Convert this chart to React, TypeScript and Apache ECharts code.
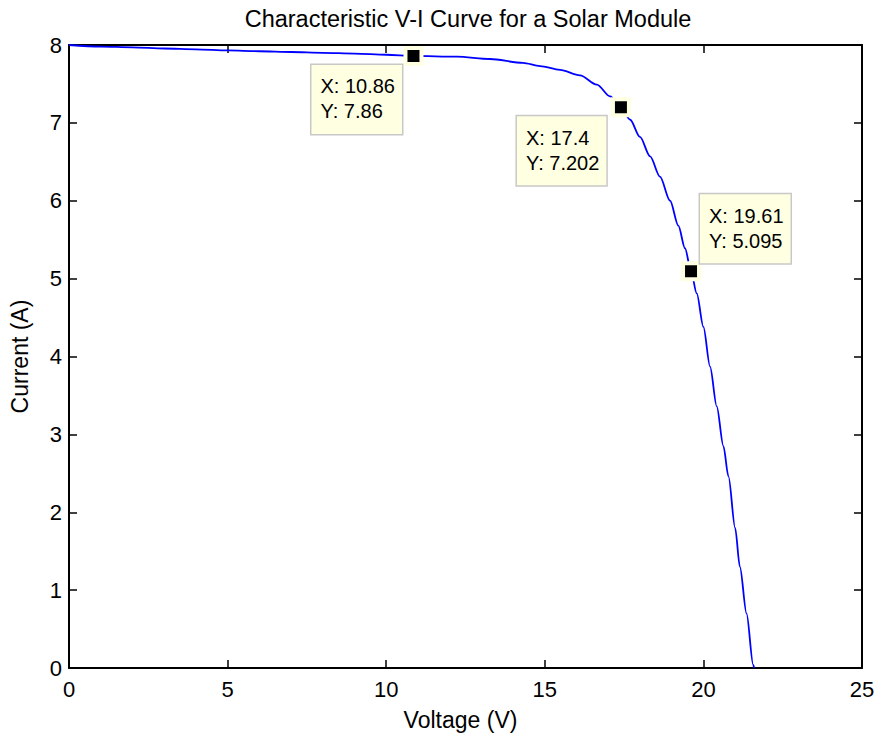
import React, { useEffect, useRef } from "react";
import * as echarts from "echarts";

const voltage = [0, 1, 2, 3, 4, 5, 6, 7, 8, 9, 10, 10.86, 12.23, 13.27, 14.31, 14.85, 15.48, 16.11, 16.64, 17.06, 17.4, 17.69, 18.0, 18.32, 18.63, 18.95, 19.21, 19.42, 19.61, 19.79, 20.0, 20.21, 20.42, 20.63, 20.79, 21.0, 21.15, 21.36, 21.57, 21.6];
const current = [8.0, 7.98, 7.97, 7.955, 7.945, 7.93, 7.92, 7.91, 7.9, 7.89, 7.875, 7.86, 7.85, 7.82, 7.77, 7.73, 7.68, 7.61, 7.49, 7.34, 7.202, 7.04, 6.82, 6.57, 6.31, 6.0, 5.68, 5.39, 5.095, 4.81, 4.38, 3.87, 3.36, 2.85, 2.46, 1.8, 1.3, 0.7, 0.04, 0];

const tipX = [10.86, 17.4, 19.61];
const tipY = [7.86, 7.202, 5.095];

const xTicks = { min: 0, max: 25, interval: 5 };
const yTicks = { min: 0, max: 8, interval: 1 };

const FONT = "'Liberation Sans', Arial, Helvetica, sans-serif";

export default function App() {
  const ref = useRef<HTMLDivElement>(null);
  useEffect(() => {
    if (!ref.current) return;
    const chart = echarts.init(ref.current, null, { renderer: "svg" });
    const tipOffsets: [number, number][] = [[-102, 9], [-104, 9], [9, -77]];
    const axisLine = { show: true, onZero: false, lineStyle: { color: "#000", width: 2 } };
    const tick = { show: true, inside: true, length: 8, lineStyle: { color: "#000", width: 1.5 } };
    const label = { color: "#000", fontSize: 22, fontFamily: FONT };
    chart.setOption({
      animation: false,
      backgroundColor: "#fff",
      title: {
        text: "Characteristic V-I Curve for a Solar Module",
        left: 463,
        textAlign: "center",
        top: 2,
        textStyle: { color: "#000", fontSize: 23.5, fontWeight: "normal", fontFamily: FONT },
      },
      grid: { left: 69, right: 16, top: 45, bottom: 68, containLabel: false },
      xAxis: [
        {
          type: "value",
          ...xTicks,
          position: "bottom",
          name: "Voltage (V)",
          nameLocation: "middle",
          nameGap: 40,
          nameTextStyle: { color: "#000", fontSize: 23, fontFamily: FONT, padding: [0, 10, 0, 0] },
          axisLine,
          axisTick: tick,
          axisLabel: { ...label, margin: 10 },
          splitLine: { show: false },
        },
        {
          type: "value",
          ...xTicks,
          position: "top",
          axisLine,
          axisTick: tick,
          axisLabel: { show: false },
          splitLine: { show: false },
        },
      ],
      yAxis: [
        {
          type: "value",
          ...yTicks,
          position: "left",
          name: "Current (A)",
          nameLocation: "middle",
          nameGap: 38,
          nameTextStyle: { color: "#000", fontSize: 23, fontFamily: FONT },
          axisLine,
          axisTick: tick,
          axisLabel: { ...label, margin: 7 },
          splitLine: { show: false },
        },
        {
          type: "value",
          ...yTicks,
          position: "right",
          axisLine,
          axisTick: tick,
          axisLabel: { show: false },
          splitLine: { show: false },
        },
      ],
      series: [
        {
          type: "line",
          data: voltage.map((v, i) => [v, current[i]]),
          showSymbol: false,
          symbol: "none",
          smooth: 0.3,
          smoothMonotone: "x",
          lineStyle: { color: "#0000FF", width: 1.8 },
          markPoint: {
            symbol: "rect",
            symbolSize: 16,
            itemStyle: { color: "#000", borderColor: "#FFFFE1", borderWidth: 4 },
            data: tipX.map((x, i) => ({
              coord: [x, tipY[i]],
              label: {
                show: true,
                position: "inside",
                align: "left",
                verticalAlign: "top",
                offset: tipOffsets[i],
                formatter: `X: ${x}\nY: ${tipY[i]}`,
                color: "#000",
                fontSize: 20,
                fontFamily: FONT,
                lineHeight: 25,
                backgroundColor: "#FFFFE1",
                borderColor: "#C8C8C8",
                borderWidth: 1.5,
                padding: [9, 7, 10, 9],
              },
            })),
          },
        },
      ],
    });
    return () => chart.dispose();
  }, []);
  return <div ref={ref} style={{ position: "absolute", left: 0, top: 0, width: 878, height: 736 }} />;
}
